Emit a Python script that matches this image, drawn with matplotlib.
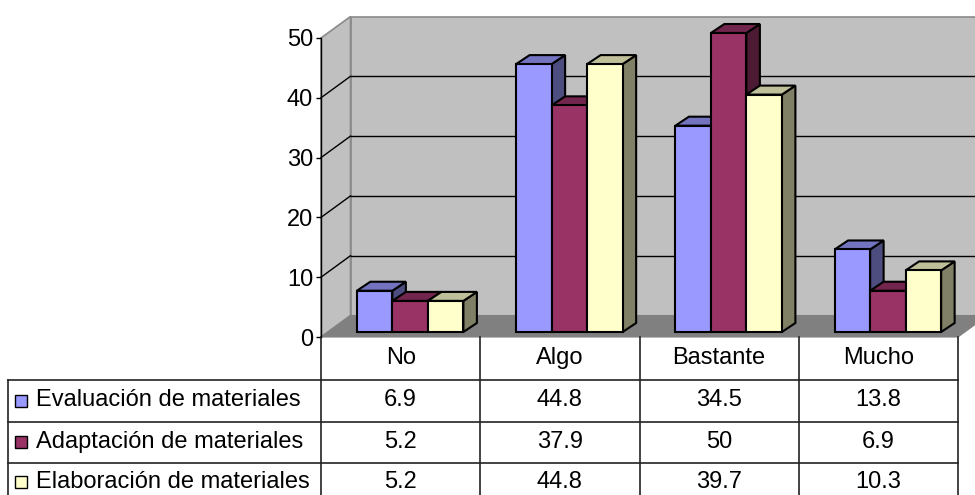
import numpy as np
import matplotlib
matplotlib.use("Agg")
import matplotlib.pyplot as plt
from matplotlib.patches import Polygon, Rectangle
from matplotlib.colors import to_rgb
import matplotlib.transforms as mtransforms

plt.rcParams['font.family'] = ['Liberation Sans', 'DejaVu Sans']

categories = ["No", "Algo", "Bastante", "Mucho"]
series_names = ["Evaluación de materiales",
                "Adaptación de materiales",
                "Elaboración de materiales"]
evaluacion = [6.9, 44.8, 34.5, 13.8]
adaptacion = [5.2, 37.9, 50, 6.9]
elaboracion = [5.2, 44.8, 39.7, 10.3]
series_values = [evaluacion, adaptacion, elaboracion]
series_colors = ["#9999FF", "#993366", "#FFFFCC"]
y_ticks = [0, 10, 20, 30, 40, 50]

W, H = 975, 495
fig = plt.figure(figsize=(W / 100, H / 100), dpi=100)

# plot area of the front plane, in pixels
PX0, PX1 = 321, 958
PY0, PY50 = 337, 38
ax = fig.add_axes([PX0 / W, 1 - PY0 / H, (PX1 - PX0) / W, (PY0 - PY50) / H])
ncat = len(categories)
ax.set_xlim(0, ncat)
ax.set_ylim(0, 50)
ax.patch.set_visible(False)

sx = ncat / (PX1 - PX0)     # data units per pixel, x
sy = 50 / (PY0 - PY50)      # data units per pixel, y
DEPTH = np.array([29.5 * sx, 21.5 * sy])
BAR_FRONT = np.array([9.5 * sx, 5.0 * sy])
BAR_BACK = np.array([23.0 * sx, 14.0 * sy])
BAR_W = 0.223

WALL = "#C0C0C0"
FLOOR = "#808080"
EDGE_WALL = "#8A8A8A"

def poly(pts, fc, ec, lw, z):
    p = Polygon(pts, closed=True, facecolor=fc, edgecolor=ec, linewidth=lw,
                zorder=z, clip_on=False, joinstyle="miter")
    ax.add_patch(p)

dx, dy = DEPTH
# walls and floor
poly([(dx, dy), (ncat + dx, dy), (ncat + dx, 50 + dy), (dx, 50 + dy)], WALL, EDGE_WALL, 1.2, 0.5)
poly([(0, 0), (0, 50), (dx, 50 + dy), (dx, dy)], WALL, EDGE_WALL, 1.2, 0.6)
poly([(0, 0), (ncat, 0), (ncat + dx, dy), (dx, dy)], FLOOR, FLOOR, 0.8, 0.7)

# gridlines on the back and side walls
for v in y_ticks[1:-1]:
    ax.plot([dx, ncat + dx], [v + dy, v + dy], color="black", lw=1.0, zorder=0.8, clip_on=False)
    ax.plot([0, dx], [v, v + dy], color="black", lw=1.0, zorder=0.8, clip_on=False)

# 3D bars
def shade(c, f):
    r, g, b = to_rgb(c)
    return (r * f, g * f, b * f)

fx, fy = BAR_FRONT
bx, by = BAR_BACK
z = 2
for i in range(ncat):
    for j, (vals, col) in enumerate(zip(series_values, series_colors)):
        v = vals[i]
        x0 = i + 0.5 - 1.5 * BAR_W + j * BAR_W
        x1 = x0 + BAR_W
        front = [(x0 + fx, fy), (x1 + fx, fy), (x1 + fx, v + fy), (x0 + fx, v + fy)]
        top = [(x0 + fx, v + fy), (x1 + fx, v + fy), (x1 + bx, v + by), (x0 + bx, v + by)]
        side = [(x1 + fx, fy), (x1 + bx, by), (x1 + bx, v + by), (x1 + fx, v + fy)]
        poly(side, shade(col, 0.5), "black", 1.5, z)
        poly(top, shade(col, 0.75), "black", 1.5, z)
        poly(front, col, "black", 1.5, z + 0.1)
        z += 0.2

# value axis
for s in ["top", "right", "bottom"]:
    ax.spines[s].set_visible(False)
ax.spines["left"].set_color("black")
ax.spines["left"].set_linewidth(1.0)
ax.spines["left"].set_zorder(5)
ax.set_xticks([])
ax.set_yticks(y_ticks)
ax.tick_params(axis="y", length=3.6, width=1.0, pad=2.0, labelsize=17, colors="black")

# data table below the plot
trans = mtransforms.blended_transform_factory(ax.transData, fig.transFigure)
def fy_(py):
    return 1 - py / H

row_lines = [379.5, 421.5, 462.5]
row_centers = [358, 400.5, 442, 482]
TABLE_LEFT = (8 - PX0) * sx
TABLE_BOTTOM = 505
LINE = "#222222"

for yl in row_lines:
    ax.plot([TABLE_LEFT, ncat], [fy_(yl), fy_(yl)], color=LINE, lw=1.2,
            transform=trans, clip_on=False, zorder=5)
for k in range(ncat + 1):
    ax.plot([k, k], [fy_(PY0), fy_(TABLE_BOTTOM)], color=LINE, lw=1.2,
            transform=trans, clip_on=False, zorder=5)
ax.plot([TABLE_LEFT, TABLE_LEFT], [fy_(row_lines[0]), fy_(TABLE_BOTTOM)], color=LINE,
        lw=1.2, transform=trans, clip_on=False, zorder=5)

FS = 17
for i, cat in enumerate(categories):
    ax.text(i + 0.5, fy_(row_centers[0]), cat, transform=trans, ha="center",
            va="center", fontsize=FS, zorder=6)
for j, (name, vals, col) in enumerate(zip(series_names, series_values, series_colors)):
    yc = row_centers[j + 1]
    for i, v in enumerate(vals):
        ax.text(i + 0.5, fy_(yc), f"{v:g}", transform=trans, ha="center",
                va="center", fontsize=FS, zorder=6)
    fig.add_artist(Rectangle((15 / W, fy_(yc + 6)), 12 / W, 12 / H, facecolor=col,
                             edgecolor="black", linewidth=1.0, transform=fig.transFigure))
    fig.text(36 / W, fy_(yc), name, ha="left", va="center", fontsize=FS)

fig.savefig("out.png", dpi=100)
